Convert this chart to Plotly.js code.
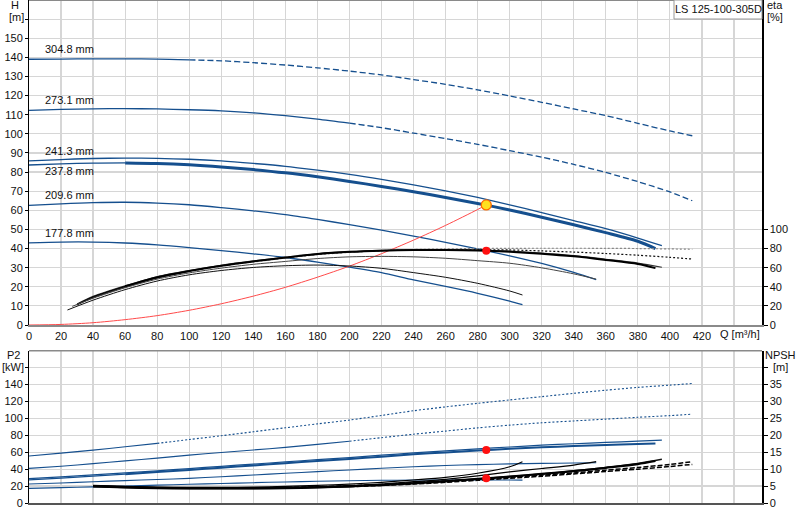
<!DOCTYPE html>
<html><head><meta charset="utf-8">
<script src="https://cdn.plot.ly/plotly-3.0.1.min.js"></script>
<style>html,body{margin:0;padding:0;background:#fff}#chart{width:800px;height:520px}</style>
</head><body><div id="chart"></div>
<script>
// ---------- DATA ----------
const diaLabels = ["304.8 mm","273.1 mm","241.3 mm","237.8 mm","209.6 mm","177.8 mm"];
const pumpName = "LS 125-100-305D";

// Head curves H [m] vs Q [m3/h]
const qH304 = [0,20,40,60,80,100,120,140,160,180,200,220,240,260,280,300,320,340,360,380,400,414];
const h304  = [139,139.1,139.2,139.2,139.1,138.7,138.2,137.2,136,134.5,132.8,130.8,128.4,125.9,123,119.8,116.5,113,109.5,105.5,101.5,99];
const qH273 = [0,20,40,60,80,100,120,140,160,180,200,220,240,260,280,300,320,340,360,380,400,414];
const h273  = [112.3,112.8,113.1,113.2,113,112.6,112,111,109.5,107.7,105.6,103.2,100.4,97.5,94.5,91.2,87.8,84,79.8,75,69.6,65];
const qH241 = [0,20,40,60,80,100,120,140,160,180,200,220,240,260,280,300,320,340,360,380,395];
const h241  = [85.8,86.5,87.1,87.3,87.2,86.7,85.8,84.5,83,81,78.8,76.2,73.3,70.2,66.7,62.8,58.8,54.6,50.4,45.5,41.5];
const qH237 = [0,20,40,60,80,100,120,140,160,180,200,220,240,260,280,300,320,340,360,380,391];
const h237  = [83.7,84.3,84.7,84.8,84.5,83.8,82.7,81.3,79.6,77.5,75.1,72.5,69.7,66.7,63.6,60.2,56.4,52.4,48.3,43.8,40];
const qH209 = [0,20,40,60,80,100,120,140,160,180,200,220,240,260,280,300,320,340,354];
const h209  = [62.6,63.4,64,64.2,63.8,62.9,61.4,59.7,57.7,55.2,52.5,49.6,46.5,43.2,39.8,36.2,32.2,27.5,23.7];
const qH178 = [0,20,40,60,80,100,120,140,160,180,200,220,240,260,280,300,308];
const h178  = [43,43.4,43.4,42.9,41.9,40.5,38.9,37.2,35.3,32.9,30.3,27.4,23.6,20.2,16.6,12.5,10.6];

// Efficiency curves eta [%]
const qE304 = [30,40,60,80,100,120,140,160,180,200,220,240,260,280,300,320,340,360,380,400,414];
const e304  = [21,28.5,39.5,49,56,61.5,66,70,73.5,76,77.8,79,79.6,80,80.2,80.3,80.3,80.2,80,79.6,79.2];
const qE273 = [30,40,60,80,100,120,140,160,180,200,220,240,260,280,300,320,340,360,380,400,414];
const e273  = [21.5,29,40,49.5,56.5,62,66.5,70.3,73.8,76.2,77.7,78.5,78.8,78.8,78.5,77.5,76.3,74.8,73,70.8,69];
const qE241 = [30,40,60,80,100,120,140,160,180,200,220,240,260,280,300,320,340,360,380,395];
const e241  = [22,30,41,50.5,57,62.5,67,70.8,74.5,76.7,78,78.7,78.8,78.4,77.2,75.2,72.5,68.8,64.8,60.4];
const qE237 = [30,40,60,80,100,120,140,160,180,200,220,240,260,280,300,320,340,360,380,391];
const e237  = [21.5,29.5,40.5,50,56.5,62,66.5,70.5,74.2,76.5,77.8,78.4,78.5,78,76.7,74.6,71.8,68,63.8,59.5];
const qE209 = [27,40,60,80,100,120,140,160,180,200,220,240,260,280,300,320,340,354];
const e209  = [19.5,28,39,48,54.5,59.5,63.5,66.5,69.5,71.3,71.8,71.3,69.8,67.3,64.6,59.8,53.5,48];
const qE178 = [24,40,60,80,100,120,140,160,180,200,220,240,260,280,300,308];
const e178  = [15.7,26,37,46,52.5,57,60.2,62,62.7,61.7,59.3,54.8,49.9,43.6,35.6,31.4];

// Power curves P2 [kW]
const qP304 = [0,20,40,60,80,100,120,140,160,180,200,220,240,260,280,300,320,340,360,380,400,414];
const p304  = [55.5,59,62.5,66.5,70.5,75,79.5,84.2,88.9,93.5,98,103.5,109,113.6,117.8,121.8,125.7,129.6,133.3,136.6,139.3,141.2];
const qP273 = [0,20,40,60,80,100,120,140,160,180,200,220,240,260,280,300,320,340,360,380,400,414];
const p273  = [40.9,43.5,46.5,49.8,53,56.6,59.7,62.7,65.7,69.3,73,77.2,81.3,85,88.8,92,94.8,97,99.1,101.3,103.3,105];
const qP241 = [0,20,40,60,80,100,120,140,160,180,200,220,240,260,280,300,320,340,360,380,395];
const p241  = [28.7,30.8,33.2,35.6,38,40.7,43.4,46,48.6,51.2,53.7,56.5,59.2,61.7,64,66.2,68.3,70,71.6,73.1,74.3];
const qP237 = [0,20,40,60,80,100,120,140,160,180,200,220,240,260,280,300,320,340,360,380,391];
const p237  = [27.3,29.4,31.7,34.1,36.5,39.1,41.8,44.4,47,49.6,52.1,54.8,57.5,59.8,62,64,65.8,67.3,68.6,69.7,70.4];
const qP209 = [0,20,40,60,80,100,120,140,160,180,200,220,240,260,280,300,320,340,354];
const p209  = [22.4,23.7,25.1,26.5,27.8,29.1,31.1,33.1,35.1,37.1,39,41,42.9,44.3,45.4,46.2,46.8,47.3,47.6];
const qP178 = [0,20,40,60,80,100,120,140,160,180,200,220,240,260,280,300,308];
const p178  = [17.3,18.2,19.1,20,21.1,22.1,23,24,24.9,25.7,26.3,26.8,27.1,27.2,27.2,27.1,27];

// NPSH curves [m]
const qN304 = [40,60,80,100,120,140,160,180,200,220,240,260,280,300,320,340,360,380,400,414];
const n304  = [5.1,4.8,4.6,4.5,4.5,4.5,4.6,4.8,5.1,5.5,6,6.5,7,7.6,8.2,8.9,9.7,10.5,11.4,12.2];
const qN273 = [40,60,80,100,120,140,160,180,200,220,240,260,280,300,320,340,360,380,400,414];
const n273  = [4.9,4.6,4.4,4.3,4.3,4.3,4.4,4.6,4.8,5.2,5.6,6.1,6.7,7.3,7.9,8.6,9.3,10,10.8,11.4];
const qN241 = [40,60,80,100,120,140,160,180,200,220,240,260,280,300,320,340,360,380,395];
const n241  = [5,4.7,4.5,4.4,4.4,4.4,4.5,4.7,5,5.4,5.9,6.5,7.1,7.8,8.6,9.5,10.5,11.7,12.9];
const qN237 = [40,60,80,100,120,140,160,180,200,220,240,260,280,300,320,340,360,380,391];
const n237  = [4.9,4.6,4.4,4.3,4.3,4.3,4.4,4.6,4.9,5.3,5.8,6.4,7.1,7.8,8.6,9.4,10.4,11.5,12.4];
const qN209 = [40,60,80,100,120,140,160,180,200,220,240,260,280,300,320,340,354];
const n209  = [5,4.7,4.5,4.4,4.4,4.5,4.6,4.8,5.1,5.6,6.3,7,8,9.2,10.2,11.2,12.2];
const qN178 = [40,60,80,100,120,140,160,180,200,220,240,260,280,300,308];
const n178  = [5.2,4.9,4.7,4.6,4.6,4.7,4.9,5.2,5.6,6.1,6.8,7.6,8.8,10.7,12.2];

// System curve
const qSys = [0,20,40,60,80,100,120,140,160,180,200,220,240,260,280,285.4];
const hSys = [0,0.3,1.2,2.8,4.9,7.7,11.1,15.1,19.7,25,30.8,37.3,44.4,52.1,60.4,62.8];

// Duty point
const qDuty = 285.4, hDuty = 62.8, etaDuty = 77.8, p2Duty = 62.5, npshDuty = 7.3;

// Axis tick values
const qTicks = [0,20,40,60,80,100,120,140,160,180,200,220,240,260,280,300,320,340,360,380,400,420,440];
const hTicks = [0,10,20,30,40,50,60,70,80,90,100,110,120,130,140,150,160];
const etaTicks = [0,20,40,60,80,100];
const pTicks = [0,20,40,60,80,100,120,140,160];
const nTicks = [0,5,10,15,20,25,30,35,40];

// ---------- DRAWING ----------
const BLUE = '#154f8e';
const DASH = '6px,3px', DOT = '2px,2px', NDASH = '5px,2px';
function seg(q, v, from, to) {
  const x = [], y = [];
  q.forEach((qq, i) => { if (qq >= from && qq <= to) { x.push(qq); y.push(v[i]); } });
  return {x, y};
}
function tr(q, v, from, to, xa, ya, color, width, dash) {
  const s = seg(q, v, from, to);
  return {type:'scatter', mode:'lines', x:s.x, y:s.y, xaxis:xa, yaxis:ya,
    line:{color:color, width:width, dash:dash || 'solid', shape:'spline', smoothing:0.8},
    hoverinfo:'skip', showlegend:false};
}
const BIG = 1e9;
const traces = [
  // efficiency (top, y2)
  tr(qE304, e304, 0, 100, 'x', 'y2', '#222', 1),
  tr(qE304, e304, 100, BIG, 'x', 'y2', '#888', 1.2, DOT),
  tr(qE273, e273, 0, 200, 'x', 'y2', '#222', 1),
  tr(qE273, e273, 200, BIG, 'x', 'y2', '#111', 1.2, DOT),
  tr(qE241, e241, 0, BIG, 'x', 'y2', '#333', 1.2),
  tr(qE237, e237, 0, 60, 'x', 'y2', '#000', 1),
  tr(qE237, e237, 60, BIG, 'x', 'y2', '#000', 2),
  tr(qE209, e209, 0, BIG, 'x', 'y2', '#444', 1),
  tr(qE178, e178, 0, BIG, 'x', 'y2', '#111', 1),
  // head (top, y)
  tr(qH304, h304, 0, 100, 'x', 'y', BLUE, 1.3),
  tr(qH304, h304, 100, BIG, 'x', 'y', BLUE, 1.3, DASH),
  tr(qH273, h273, 0, 200, 'x', 'y', BLUE, 1.3),
  tr(qH273, h273, 200, BIG, 'x', 'y', BLUE, 1.3, DASH),
  tr(qH241, h241, 0, BIG, 'x', 'y', BLUE, 1.3),
  tr(qH237, h237, 0, 60, 'x', 'y', BLUE, 1.3),
  tr(qH237, h237, 60, BIG, 'x', 'y', BLUE, 3),
  tr(qH209, h209, 0, BIG, 'x', 'y', BLUE, 1.3),
  tr(qH178, h178, 0, BIG, 'x', 'y', BLUE, 1.3),
  // system curve
  tr(qSys, hSys, 0, BIG, 'x', 'y', '#ff4a4a', 1),
  // NPSH (bottom, y4)
  tr(qN304, n304, 0, 100, 'x2', 'y4', '#000', 1.5),
  tr(qN304, n304, 100, BIG, 'x2', 'y4', '#000', 1.5, NDASH),
  tr(qN273, n273, 0, 200, 'x2', 'y4', '#000', 1.5),
  tr(qN273, n273, 200, BIG, 'x2', 'y4', '#000', 1.5, NDASH),
  tr(qN241, n241, 0, BIG, 'x2', 'y4', '#111', 1.5),
  tr(qN237, n237, 0, BIG, 'x2', 'y4', '#000', 2.2),
  tr(qN209, n209, 0, BIG, 'x2', 'y4', '#000', 1.2),
  tr(qN178, n178, 0, BIG, 'x2', 'y4', '#000', 1.2),
  // P2 (bottom, y3)
  tr(qP304, p304, 0, 80, 'x2', 'y3', BLUE, 1.1),
  tr(qP304, p304, 80, BIG, 'x2', 'y3', BLUE, 1.1, DOT),
  tr(qP273, p273, 0, 200, 'x2', 'y3', BLUE, 1.1),
  tr(qP273, p273, 200, BIG, 'x2', 'y3', BLUE, 1.1, DOT),
  tr(qP241, p241, 0, BIG, 'x2', 'y3', BLUE, 1.2),
  tr(qP237, p237, 0, 60, 'x2', 'y3', BLUE, 1.2),
  tr(qP237, p237, 60, BIG, 'x2', 'y3', BLUE, 2),
  tr(qP209, p209, 0, BIG, 'x2', 'y3', BLUE, 1.1),
  tr(qP178, p178, 0, BIG, 'x2', 'y3', BLUE, 1.1),
  // duty point markers
  {type:'scatter', mode:'markers', x:[qDuty], y:[etaDuty], xaxis:'x', yaxis:'y2',
    marker:{color:'#ff1010', size:8}, hoverinfo:'skip', showlegend:false},
  {type:'scatter', mode:'markers', x:[qDuty], y:[hDuty], xaxis:'x', yaxis:'y',
    marker:{color:'#ffe020', size:10, line:{color:'#ff6a00', width:1.3}}, hoverinfo:'skip', showlegend:false},
  {type:'scatter', mode:'markers', x:[qDuty], y:[p2Duty], xaxis:'x2', yaxis:'y3',
    marker:{color:'#ff1010', size:8}, hoverinfo:'skip', showlegend:false},
  {type:'scatter', mode:'markers', x:[qDuty], y:[npshDuty], xaxis:'x2', yaxis:'y4',
    marker:{color:'#ff1010', size:8}, hoverinfo:'skip', showlegend:false}
];

// geometry helpers (pixel -> paper)
const ML = 29, MR = 38, MT = 0, MB = 17, W = 800, H = 520;
const PW = W - ML - MR, PH = H - MT - MB;
const px = X => (X - ML) / PW;
const py = Y => (H - MB - Y) / PH;
const topDom = [py(325), 1];
const botDom = [0, py(350.7)];

const FONT = 'Liberation Sans, Arial, sans-serif';
const GRID = '#d6d6d6';
const qText = qTicks.map(v => v === 440 ? '' : String(v));
const hText = hTicks.map(v => v === 160 ? '' : String(v));
const pText = pTicks.map(v => v === 160 ? '' : String(v));
const nText = nTicks.map(v => v === 40 ? '' : String(v));

const heads = [h304, h273, h241, h237, h209, h178];
const labelShift = [10, 10, 10, -6, 10, 10];
const annotations = diaLabels.map((t, i) => ({
  xref:'x', yref:'y', x:8.5, y:heads[i][0], yshift:labelShift[i], xanchor:'left', yanchor:'middle',
  text:t, showarrow:false, font:{family:FONT, size:11, color:'#111'}
}));
function lab(t, X, Y) {
  return {xref:'paper', yref:'paper', x:px(X), y:py(Y), xanchor:'center', yanchor:'middle',
    text:t, showarrow:false, font:{family:FONT, size:11, color:'#111'}};
}
annotations.push(lab('H', 15, 5), lab('[m]', 16, 17), lab('eta', 775, 5), lab('[%]', 775, 17),
  lab('P2', 13, 355), lab('[kW]', 13, 367), lab('NPSH', 780, 355), lab('[m]', 780, 367),
  lab('Q [m³/h]', 740, 334), lab(pumpName, 718, 9));

const layout = {
  width:W, height:H, margin:{l:ML, r:MR, t:MT, b:MB, pad:0},
  paper_bgcolor:'#fff', plot_bgcolor:'#fff', showlegend:false,
  font:{family:FONT, size:11, color:'#111'},
  xaxis:{domain:[0,1], anchor:'y', range:[0,457.5], tickvals:qTicks, ticktext:qText,
    showgrid:true, gridcolor:GRID, gridwidth:1.2, zeroline:false, showline:true, linecolor:'#8a8a8a', linewidth:2,
    ticks:'', tickfont:{size:11}},
  yaxis:{domain:topDom, anchor:'x', range:[0,170], tickvals:hTicks, ticktext:hText,
    showgrid:true, gridcolor:GRID, gridwidth:1.2, zeroline:false, showline:true, linecolor:'#000', linewidth:1,
    ticks:'outside', ticklen:3, tickcolor:'#000', tickfont:{size:11}},
  yaxis2:{overlaying:'y', side:'right', anchor:'x', range:[0,340], tickvals:etaTicks,
    showgrid:false, zeroline:false, showline:true, linecolor:'#000', linewidth:1.5,
    ticks:'outside', ticklen:4, tickcolor:'#000', tickfont:{size:11}},
  xaxis2:{domain:[0,1], anchor:'y3', range:[0,457.5], tickvals:qTicks, showticklabels:false,
    showgrid:true, gridcolor:GRID, gridwidth:1.2, zeroline:false, showline:true, linecolor:'#555', linewidth:1.5, ticks:''},
  yaxis3:{domain:botDom, anchor:'x2', range:[0,180], tickvals:pTicks, ticktext:pText,
    showgrid:true, gridcolor:GRID, gridwidth:1.2, zeroline:false, showline:true, linecolor:'#000', linewidth:1,
    ticks:'outside', ticklen:3, tickcolor:'#000', tickfont:{size:11}},
  yaxis4:{overlaying:'y3', side:'right', anchor:'x2', range:[0,45], tickvals:nTicks, ticktext:nText,
    showgrid:false, zeroline:false, showline:true, linecolor:'#000', linewidth:1.5,
    ticks:'outside', ticklen:4, tickcolor:'#000', tickfont:{size:11}},
  shapes:[
    {type:'line', xref:'paper', yref:'paper', x0:0, x1:1, y0:1, y1:1, line:{color:'#8a8a8a', width:2}},
    {type:'line', xref:'paper', yref:'paper', x0:0, x1:1, y0:botDom[1], y1:botDom[1], line:{color:'#8a8a8a', width:1.5}},
    {type:'rect', xref:'paper', yref:'paper', x0:px(674), x1:1, y0:py(19), y1:1,
      fillcolor:'#fff', line:{color:'#999', width:1}, layer:'above'}
  ],
  annotations:annotations
};
Plotly.newPlot('chart', traces, layout, {displayModeBar:false, staticPlot:true});
</script></body></html>
